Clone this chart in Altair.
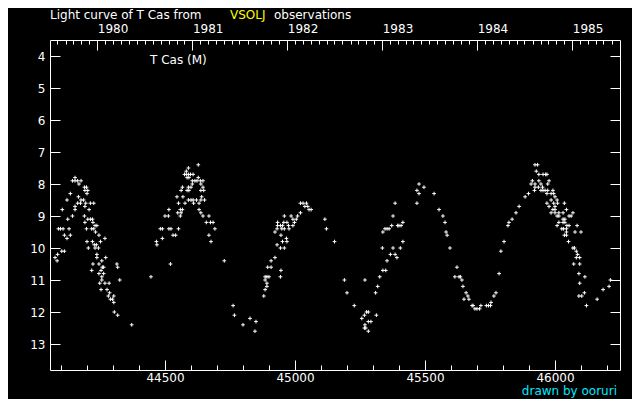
import altair as alt
import pandas as pd

FONT = "DejaVu Sans"

# ---- observations (JD - 2400000, visual magnitude) ----
c1_jd = [44154, 44144, 44154, 44164, 44177, 44169, 44190, 44198, 44192, 44203,
         44136, 44200, 44167, 44177, 44187, 44123, 44164, 44175, 44195, 44213,
         44226, 44154, 44154, 44192, 44208, 44105, 44144, 44190, 44203, 44213,
         44221, 44126, 44223, 44192, 44231, 44238, 44090, 44098, 44108, 44131,
         44198, 44218, 44226, 44233, 44113, 44136, 44246, 44123, 44269, 44200,
         44221, 44252, 44228, 44236, 44231, 44244, 44205, 44103, 44113, 44087,
         44238, 44238, 44077, 44272, 44085, 44257, 44223, 44246, 44315, 44259,
         44264, 44318, 44218, 44254, 44246, 44264, 44257, 44257, 44326, 44249,
         44269, 44285, 44254, 44277, 44287, 44282, 44303, 44290, 44298, 44303,
         44305, 44318, 44372, 44446]
c1_mag = [7.8, 7.9, 7.9, 7.9, 7.9, 8.0, 8.1, 8.1, 8.2, 8.2,
          8.3, 8.3, 8.4, 8.5, 8.5, 8.5, 8.6, 8.6, 8.6, 8.6,
          8.6, 8.7, 8.8, 8.7, 8.8, 8.8, 9.0, 9.0, 9.1, 9.1,
          9.1, 9.1, 9.2, 9.2, 9.3, 9.3, 9.4, 9.4, 9.4, 9.4,
          9.4, 9.4, 9.4, 9.5, 9.6, 9.6, 9.6, 9.7, 9.7, 9.8,
          9.8, 9.8, 9.9, 9.9, 10.0, 10.0, 10.0, 10.1, 10.1, 10.2,
          10.2, 10.3, 10.3, 10.3, 10.4, 10.4, 10.5, 10.5, 10.5, 10.6,
          10.6, 10.6, 10.7, 10.7, 10.8, 10.8, 10.9, 11.0, 11.0, 11.1,
          11.1, 11.1, 11.3, 11.3, 11.4, 11.5, 11.5, 11.6, 11.6, 11.7,
          12.0, 12.1, 12.4, 10.9]

c2_jd = [44628, 44590, 44582, 44575, 44582, 44590, 44598, 44608, 44585, 44592,
         44628, 44605, 44615, 44623, 44636, 44646, 44605, 44638, 44567, 44590,
         44600, 44646, 44562, 44585, 44592, 44638, 44649, 44546, 44569, 44641,
         44590, 44600, 44608, 44621, 44638, 44652, 44552, 44577, 44610, 44631,
         44515, 44559, 44567, 44631, 44549, 44562, 44638, 44500, 44513, 44559,
         44646, 44669, 44659, 44675, 44685, 44482, 44490, 44515, 44523, 44552,
         44692, 44531, 44541, 44669, 44490, 44467, 44677, 44469, 44728, 44521,
         44762, 44767, 44800, 44827, 44850, 44846]
c2_mag = [7.4, 7.5, 7.6, 7.7, 7.7, 7.7, 7.7, 7.7, 7.8, 7.8,
          7.8, 7.9, 7.9, 7.9, 7.9, 7.9, 8.0, 8.0, 8.1, 8.1,
          8.1, 8.1, 8.2, 8.2, 8.2, 8.2, 8.2, 8.4, 8.4, 8.4,
          8.5, 8.5, 8.5, 8.5, 8.5, 8.5, 8.6, 8.6, 8.6, 8.6,
          8.8, 8.8, 8.8, 8.8, 8.9, 8.9, 8.9, 9.0, 9.0, 9.0,
          9.0, 9.0, 9.2, 9.2, 9.2, 9.4, 9.4, 9.4, 9.4, 9.4,
          9.4, 9.6, 9.6, 9.6, 9.7, 9.8, 9.8, 9.9, 10.4, 10.5,
          11.8, 12.1, 12.4, 12.2, 12.3, 12.6]

c3_jd = [45021, 45031, 45044, 45038, 45049, 45054, 45062, 45021, 44959, 44985,
         45010, 44992, 45005, 45115, 44933, 44957, 44969, 44998, 44933, 44944,
         44952, 44975, 44992, 44931, 44949, 44959, 44977, 45121, 44923, 44946,
         44967, 44952, 44969, 45152, 44931, 44944, 44959, 44923, 44908, 44895,
         44908, 44946, 44885, 44892, 44900, 44944, 44885, 44892, 44892, 44885,
         44880, 45190, 45269, 45200, 45228]
c3_mag = [8.6, 8.6, 8.6, 8.7, 8.7, 8.8, 8.8, 8.9, 9.0, 9.0,
          9.0, 9.1, 9.1, 9.1, 9.2, 9.2, 9.2, 9.2, 9.3, 9.3,
          9.3, 9.3, 9.3, 9.4, 9.4, 9.4, 9.4, 9.4, 9.5, 9.6,
          9.7, 9.8, 9.8, 9.8, 9.9, 10.0, 10.0, 10.3, 10.4, 10.6,
          10.6, 10.7, 10.9, 10.9, 10.9, 10.9, 11.0, 11.1, 11.2, 11.3,
          11.5, 11.0, 11.0, 11.4, 11.8]

c4_jd = [45275, 45282, 45267, 45313, 45257, 45282, 45292, 45269, 45267, 45272,
         45282, 45310, 45318, 45326, 45338, 45349, 45354, 45367, 45385, 45392,
         45336, 45377, 45405, 45415, 45338, 45346, 45354, 45362, 45372, 45395,
         45400, 45408, 45415, 45377, 45385, 45469, 45477, 45469, 45477, 45496,
         45535, 45554, 45569, 45577, 45581, 45585, 45596, 45623, 45615, 45631,
         45636, 45642, 45646, 45658, 45665, 45650, 45669, 45681, 45685, 45692,
         45700, 45710, 45715, 45736, 45744, 45752, 45754, 45765, 45773, 45785,
         45792, 45804, 45819, 45823, 45835, 45850, 45862, 45885, 45898]
c4_mag = [12.0, 12.0, 12.1, 12.1, 12.2, 12.3, 12.3, 12.4, 12.5, 12.5,
          12.6, 11.4, 11.2, 10.9, 10.7, 10.7, 10.4, 10.2, 10.2, 10.3,
          10.0, 10.0, 10.0, 9.8, 9.5, 9.4, 9.4, 9.4, 9.3, 9.3,
          9.3, 9.3, 9.2, 9.0, 8.6, 8.6, 8.0, 8.2, 8.3, 8.1,
          8.3, 8.8, 9.0, 9.2, 9.5, 9.6, 10.0, 10.6, 10.9, 10.9,
          10.9, 11.0, 11.2, 11.4, 11.5, 11.6, 11.6, 11.8, 11.8, 11.9,
          11.9, 11.9, 11.8, 11.8, 11.8, 11.8, 11.7, 11.5, 11.4, 10.8,
          10.1, 9.8, 9.3, 9.2, 9.1, 8.9, 8.7, 8.4, 8.3]

c5_jd = [45923, 45933, 45928, 45938, 45954, 45964, 45969, 45913, 45938, 45977,
         45908, 45923, 45946, 45972, 45923, 45936, 45952, 45921, 45946, 45954,
         45962, 45972, 45992, 45969, 45985, 45995, 46000, 45985, 46008, 45969,
         45995, 46010, 46036, 45977, 46000, 45992, 46000, 46044, 45985, 46000,
         46015, 46031, 46069, 46008, 46015, 46054, 46062, 46031, 46038, 46015,
         46031, 46038, 46008, 46046, 46054, 46085, 46026, 46033, 46044, 46044,
         46077, 46100, 46036, 46044, 46052, 46069, 46075, 46082, 46087, 46082,
         46095, 46072, 46095, 46092, 46115, 46095, 46113, 46092, 46103, 46121,
         46162, 46185, 46208, 46213]
c5_mag = [7.4, 7.4, 7.6, 7.7, 7.7, 7.7, 7.7, 7.9, 7.9, 7.9,
          8.0, 8.0, 8.0, 8.0, 8.1, 8.1, 8.1, 8.2, 8.2, 8.2,
          8.2, 8.2, 8.2, 8.3, 8.3, 8.3, 8.4, 8.5, 8.5, 8.6,
          8.6, 8.6, 8.6, 8.7, 8.7, 8.8, 8.8, 8.8, 8.9, 8.9,
          8.9, 8.9, 8.9, 9.0, 9.0, 9.0, 9.0, 9.1, 9.1, 9.2,
          9.2, 9.2, 9.3, 9.3, 9.3, 9.3, 9.4, 9.4, 9.4, 9.5,
          9.5, 9.5, 9.6, 9.6, 9.8, 10.0, 10.0, 10.1, 10.2, 10.3,
          10.3, 10.5, 10.5, 10.8, 10.9, 11.1, 11.4, 11.5, 11.5, 11.8,
          11.6, 11.3, 11.2, 11.0]

jd = c1_jd + c2_jd + c3_jd + c4_jd + c5_jd
mag = c1_mag + c2_mag + c3_mag + c4_mag + c5_mag
df = pd.DataFrame({"jd": jd, "mag": mag})

# ---- axis values ----
x_domain = [44057.7, 46250]
y_domain = [3.5, 13.8125]
x_major = [44500, 45000, 45500, 46000]
x_minor = list(range(44100, 46250, 100))
mag_ticks = list(range(4, 14))
year_labels = ["1980", "1981", "1982", "1983", "1984", "1985"]
year_jd = [44239.5, 44605.5, 44970.5, 45335.5, 45700.5, 46066.5]
months = pd.date_range("1979-08-01", "1985-06-01", freq="MS")
month_jd = [float((d - pd.Timestamp("1858-11-17")).days) + 0.5 for d in months]

year_expr = " : ".join(f"datum.value == {v} ? '{l}'" for v, l in zip(year_jd, year_labels)) + " : ''"

xs = alt.Scale(domain=x_domain, nice=False, zero=False)
ys = alt.Scale(domain=y_domain, reverse=True, nice=False, zero=False)

COMMON = dict(title=None, grid=False, domain=False, tickColor="white", tickWidth=1,
              labelColor="white", labelFont=FONT, labelFontSize=12)


def label_axis(orient, values, **kw):
    return alt.Axis(orient=orient, values=values, ticks=False, tickSize=0, labels=True,
                    labelOverlap=False, **COMMON, **kw)


def tick_axis(orient, values, size):
    return alt.Axis(orient=orient, values=values, ticks=True, tickSize=size, offset=-size,
                    labels=False, **COMMON)


points = alt.Chart(df).mark_point(
    shape="M-1,0L1,0M0,-1L0,1", filled=False, color="white", strokeWidth=1, size=14, opacity=1
).encode(
    x=alt.X("jd:Q", scale=xs, axis=label_axis("bottom", x_major, format="d", labelPadding=2)),
    y=alt.Y("mag:Q", scale=ys, axis=label_axis("left", mag_ticks, format="d", labelPadding=5)),
)


def guide(xaxis, yaxis):
    return alt.Chart(df).mark_point(opacity=0).encode(
        x=alt.X("jd:Q", scale=xs, axis=xaxis),
        y=alt.Y("mag:Q", scale=ys, axis=yaxis),
    )


g1 = guide(tick_axis("bottom", x_major, 10), tick_axis("right", mag_ticks, 10))
g2 = guide(tick_axis("bottom", x_minor, 5), tick_axis("left", mag_ticks, 10))
g3 = guide(tick_axis("top", year_jd, 10), None)
g4 = guide(tick_axis("top", month_jd, 4), None)
g5 = guide(label_axis("top", year_jd, labelExpr=year_expr, labelAlign="left",
                      labelBaseline="alphabetic", labelPadding=8), None)


def text_layer(txt, color, x, y, align="left"):
    return alt.Chart(pd.DataFrame({"t": [txt]})).mark_text(
        align=align, baseline="alphabetic", color=color, font=FONT, fontSize=12
    ).encode(text="t:N", x=alt.value(x), y=alt.value(y))


t1 = text_layer("Light curve of T Cas from", "white", 0, -21)
t2 = text_layer("VSOLJ", "#ffff00", 180, -21)
t3 = text_layer("observations", "white", 224, -21)
t4 = text_layer("T Cas (M)", "white", 100, 24)
t5 = text_layer("drawn by ooruri", "#00e8ff", 567, 355, align="right")

chart = alt.layer(g1, g2, g3, g4, g5, points, t1, t2, t3, t4, t5).resolve_scale(
    x="shared", y="shared"
).resolve_axis(
    x="independent", y="independent"
).properties(
    width=570, height=330,
    padding={"left": 42, "top": 32, "right": 12, "bottom": 29},
    autosize=alt.AutoSizeParams(type="none"),
).configure(
    background="black"
).configure_view(
    stroke="white", strokeWidth=1
)

chart.save("out.html", embed_options={"renderer": "svg", "actions": False})
